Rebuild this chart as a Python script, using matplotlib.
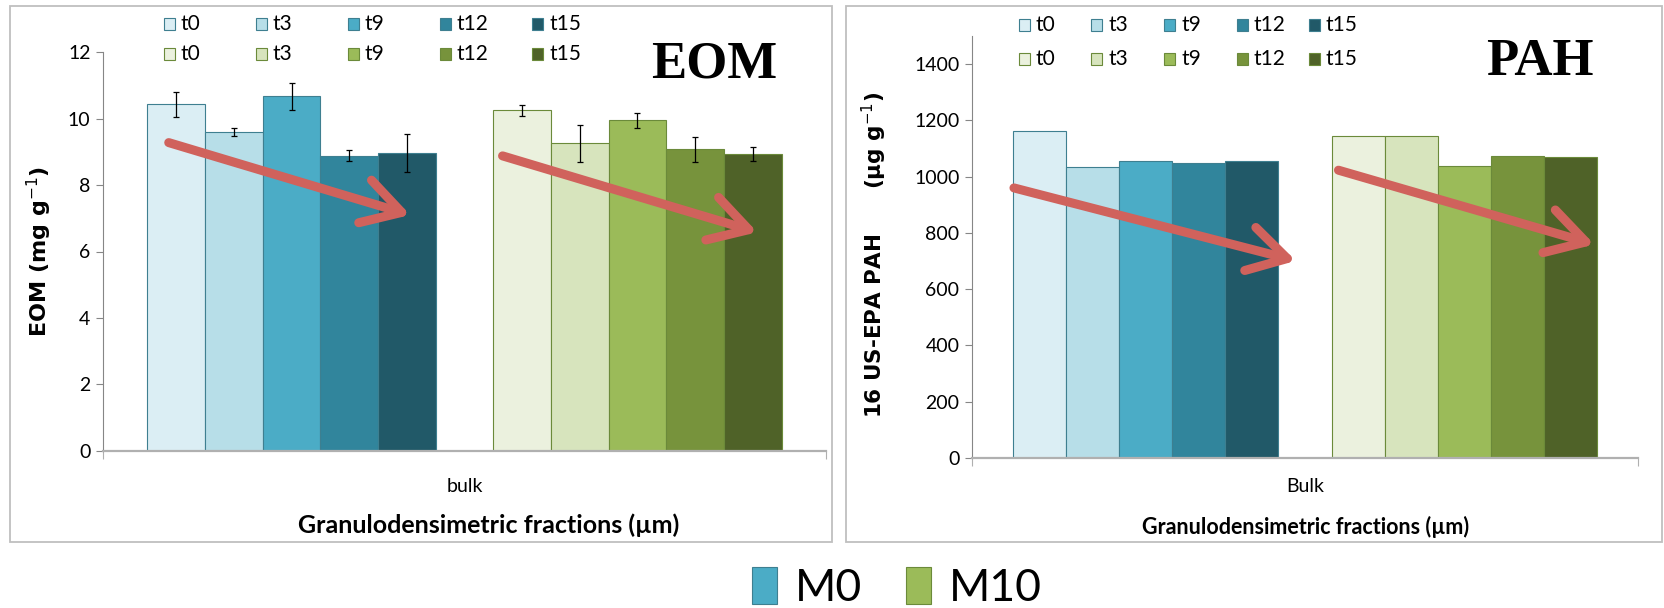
import numpy as np
import matplotlib.pyplot as plt
from matplotlib.patches import Rectangle

times = ['t0', 't3', 't9', 't12', 't15']
series = ['M0', 'M10']

# EOM (mg g-1) with error bars
eom_m0 = [10.43, 9.59, 10.67, 8.89, 8.96]
eom_m0_err = [0.37, 0.12, 0.42, 0.17, 0.57]
eom_m10 = [10.25, 9.26, 9.95, 9.08, 8.94]
eom_m10_err = [0.16, 0.55, 0.22, 0.37, 0.20]

# 16 US-EPA PAH (ug g-1)
pah_m0 = [1164, 1033, 1057, 1047, 1057]
pah_m10 = [1143, 1143, 1039, 1072, 1069]

# trend arrows (start, end) in data units
eom_arrows = [((-0.13, 9.28), (4.06, 7.10)), ((5.66, 8.88), (10.08, 6.58))]
pah_arrows = [((-0.48, 960), (4.83, 701)), ((5.63, 1023), (10.45, 759))]

blue_cols = ['#dbeef4', '#b7dee8', '#4bacc6', '#31859c', '#215968']
green_cols = ['#ebf1de', '#d7e4bd', '#9bbb59', '#77933c', '#4f6228']
blue_edge = '#3e7f90'
green_edge = '#6b8a3a'
arrow_col = '#d0625c'

W, H = 1665, 608
fig = plt.figure(figsize=(W / 100, H / 100), dpi=100)
plt.rcParams['font.family'] = ['Lato', 'DejaVu Sans']

x0 = np.arange(5)
x1 = np.arange(5) + 6


def px(x, y):
    return x / W, 1 - y / H


def panel(rect, v0, v1, e0, e1, ylim, yticks, arrows):
    ax = fig.add_axes(rect)
    kw = dict(width=1.0, linewidth=0.8, zorder=2)
    b0 = ax.bar(x0, v0, color=blue_cols, edgecolor=blue_edge, **kw)
    b1 = ax.bar(x1, v1, color=green_cols, edgecolor=green_edge, **kw)
    if e0 is not None:
        ax.errorbar(x0, v0, yerr=e0, fmt='none', ecolor='black', elinewidth=0.9, capsize=2.5, capthick=0.9, zorder=3)
        ax.errorbar(x1, v1, yerr=e1, fmt='none', ecolor='black', elinewidth=0.9, capsize=2.5, capthick=0.9, zorder=3)
    for (s, e) in arrows:
        ax.annotate('', xy=e, xytext=s, zorder=4,
                    arrowprops=dict(arrowstyle='->,head_length=0.55,head_width=0.32', lw=6.5,
                                    color=arrow_col, shrinkA=0, shrinkB=0, mutation_scale=50))
    ax.set_xlim(-1.27, 11.27)
    ax.set_ylim(*ylim)
    ax.set_yticks(yticks)
    ax.set_xticks([-1.27, 11.27])
    ax.set_xticklabels([])
    for sp in ['top', 'right']:
        ax.spines[sp].set_visible(False)
    ax.spines['left'].set_color('#868686')
    ax.spines['bottom'].set_color('#b0b0b0')
    ax.spines['bottom'].set_linewidth(1.6)
    ax.tick_params(axis='y', length=5, color='#868686', labelsize=14, pad=4)
    ax.tick_params(axis='x', length=6, color='#b0b0b0')
    return ax, b0, b1


def legend_rows(x_start, pitch, ys):
    for cols, edge, y in [(blue_cols, blue_edge, ys[0]), (green_cols, green_edge, ys[1])]:
        for i, (c, t) in enumerate(zip(cols, times)):
            x = x_start + pitch * i
            fig.patches.append(Rectangle(px(x, y + 6), 11 / W, 12 / H, transform=fig.transFigure,
                                         facecolor=c, edgecolor=edge, lw=0.8))
            fig.text(*px(x + 17, y), t, fontsize=15, va='center', ha='left')


# panel frames
for (l, r) in [(10, 832), (846, 1662)]:
    fig.patches.append(Rectangle(px(l, 542), (r - l) / W, 536 / H, transform=fig.transFigure,
                                 fill=False, edgecolor='#bfbfbf', lw=1.3))

# left panel: EOM
axl, bl0, bl1 = panel([103 / W, 1 - 450.7 / H, 723 / W, 398.4 / H], eom_m0, eom_m10, eom_m0_err, eom_m10_err,
                      (0, 12), range(0, 13, 2), eom_arrows)
axl.text(5, -0.09, 'bulk', transform=axl.get_xaxis_transform(), ha='center', va='center', fontsize=14)
axl.set_ylabel('EOM (mg g$^{-1}$)', fontsize=16, fontweight='bold', family='DejaVu Sans', labelpad=10)
fig.text(*px(489, 525), 'Granulodensimetric fractions (µm)', fontsize=18, fontweight='bold', ha='center', va='center')
fig.text(*px(714, 65), 'EOM', family='Liberation Serif', fontsize=38, fontweight='bold', ha='center', va='center')
legend_rows(164, 92, (24, 54))

# right panel: PAH
axr, br0, br1 = panel([972 / W, 1 - 458 / H, 666 / W, 422 / H], pah_m0, pah_m10, None, None,
                      (0, 1500), range(0, 1401, 200), pah_arrows)
axr.text(5, -0.068, 'Bulk', transform=axr.get_xaxis_transform(), ha='center', va='center', fontsize=14)
axr.set_ylabel('16 US-EPA PAH      (µg g$^{-1}$)', fontsize=15.5, fontweight='bold', family='DejaVu Sans')
axr.yaxis.set_label_coords(-0.125, 0.48)
fig.text(*px(1306, 527), 'Granulodensimetric fractions (µm)', fontsize=15.5, fontweight='bold', ha='center', va='center')
fig.text(*px(1540, 62), 'PAH', family='Liberation Serif', fontsize=38, fontweight='bold', ha='center', va='center')
legend_rows(1019, 72.5, (25, 59))

# bottom legend
fig.legend([bl0.patches[2], bl1.patches[2]], series, loc='center', bbox_to_anchor=px(897, 588),
           ncol=2, frameon=False, handlelength=0.55, handleheight=0.9,
           handletextpad=0.4, columnspacing=1.0, prop={'size': 32})

plt.savefig('out.png', dpi=100)
